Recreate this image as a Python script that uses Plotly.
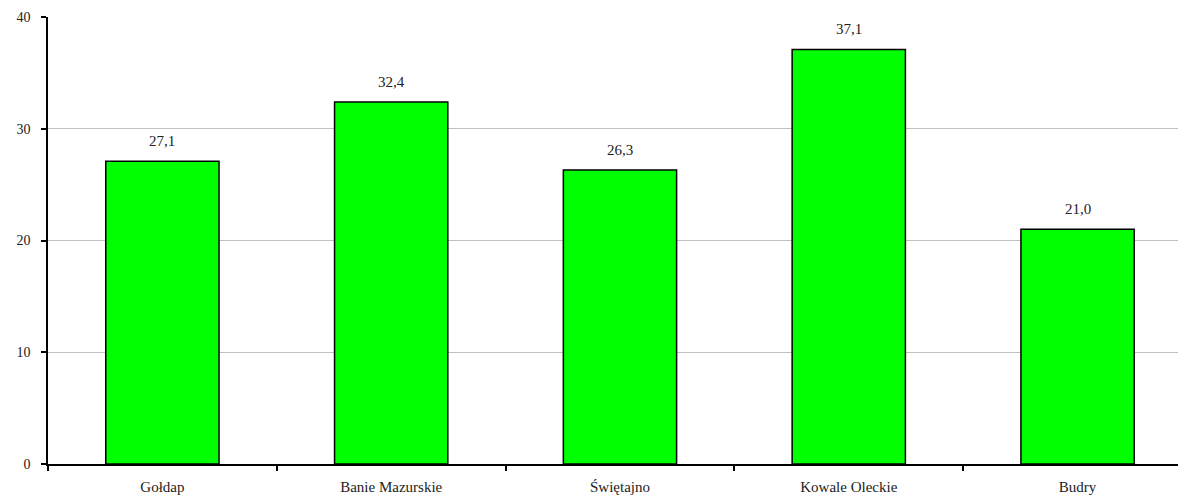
import plotly.graph_objects as go

categories = ["Gołdap", "Banie Mazurskie", "Świętajno", "Kowale Oleckie", "Budry"]
values = [27.1, 32.4, 26.3, 37.1, 21.0]
y_ticks = [0, 10, 20, 30, 40]

font_family = "Liberation Serif"

fig = go.Figure()
fig.add_trace(go.Bar(
    x=categories,
    y=values,
    marker=dict(color="#00FF00", line=dict(color="black", width=1.5)),
))

for c, v in zip(categories, values):
    fig.add_annotation(
        x=c, y=v, text=f"{v:.1f}".replace(".", ","),
        showarrow=False, yanchor="bottom", yshift=10,
        font=dict(family=font_family, size=15, color="#222"),
    )

fig.update_layout(
    width=1178, height=499,
    margin=dict(l=48, r=0, t=17, b=35),
    plot_bgcolor="white", paper_bgcolor="white",
    bargap=0.505,
    showlegend=False,
    font=dict(family=font_family, color="#222"),
)
fig.update_xaxes(
    type="category",
    range=[-0.5, 4.439],
    showline=True, linecolor="black", linewidth=1.5,
    ticks="outside", tickson="boundaries", ticklen=5, tickcolor="black", tickwidth=1.5,
    tickfont=dict(family=font_family, size=15, color="#222"),
    ticklabelstandoff=8,
    showgrid=False,
)
fig.update_yaxes(
    range=[0, 40],
    tickvals=y_ticks,
    showline=True, linecolor="black", linewidth=1.5,
    ticks="outside", ticklen=5, tickcolor="black", tickwidth=1.5,
    tickfont=dict(family=font_family, size=14, color="#222"),
    ticklabelstandoff=8,
    showgrid=True, gridcolor="#c0c0c0", gridwidth=1,
    zeroline=False,
)

fig.write_html("out.html")
